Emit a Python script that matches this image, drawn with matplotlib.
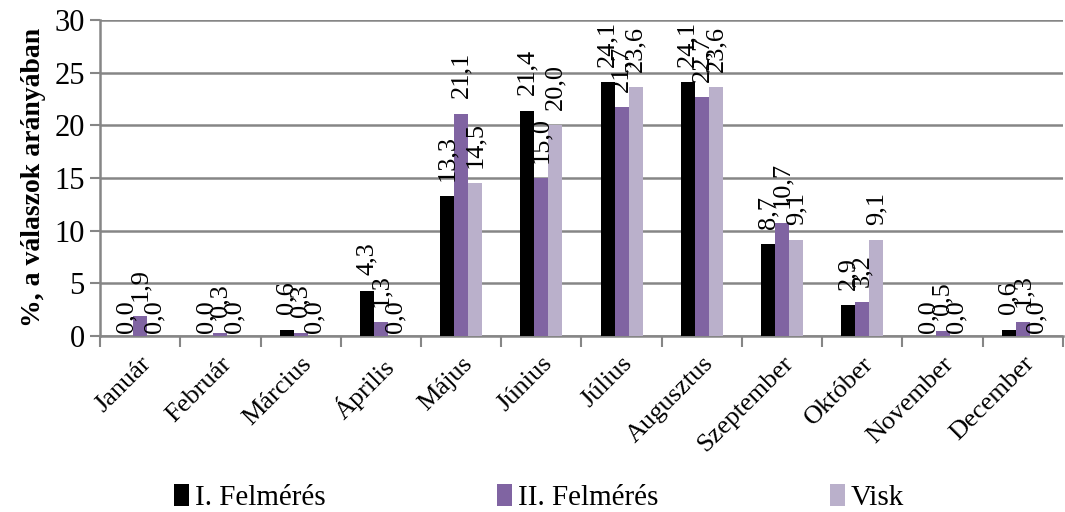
import numpy as np
import matplotlib
matplotlib.use("Agg")
import matplotlib.pyplot as plt
from matplotlib.patches import Patch

honapok = ['Január', 'Február', 'Március', 'Április', 'Május', 'Június',
           'Július', 'Augusztus', 'Szeptember', 'Október', 'November', 'December']
felmeres_1 = [0.0, 0.0, 0.6, 4.3, 13.3, 21.4, 24.1, 24.1, 8.7, 2.9, 0.0, 0.6]
felmeres_2 = [1.9, 0.3, 0.3, 1.3, 21.1, 15.0, 21.7, 22.7, 10.7, 3.2, 0.5, 1.3]
visk = [0.0, 0.0, 0.0, 0.0, 14.5, 20.0, 23.6, 23.6, 9.1, 9.1, 0.0, 0.0]
sorozat_nevek = ['I. Felmérés', 'II. Felmérés', 'Visk']
szinek = ['#000000', '#8064A2', '#BAB0CB']

plt.rcParams['font.family'] = ['Liberation Serif', 'DejaVu Serif']

fig = plt.figure(figsize=(10.65, 5.12), dpi=100)
ax = fig.add_axes([0.094, 0.344, 0.904, 0.617])

x = np.arange(len(honapok))
w = 0.175
for i, (vals, szin) in enumerate(zip([felmeres_1, felmeres_2, visk], szinek)):
    pos = x + (i - 1) * w
    ax.bar(pos, vals, width=w, color=szin, zorder=3)
    for p, v in zip(pos, vals):
        # nulla ertekeknel a felirat a tengelyhez tapad
        off = 2 if v == 0 else 11
        ax.annotate(f"{v:.1f}".replace('.', ','), (p, v), xytext=(0, off),
                    textcoords='offset points', rotation=90,
                    ha='center', va='bottom', fontsize=19, zorder=4)

ax.set_xlim(-0.5, len(honapok) - 0.5)
ax.set_ylim(0, 30)
ax.set_yticks(range(0, 31, 5))
ax.tick_params(axis='y', labelsize=22, length=7, color='#868686', width=1.5, pad=4)
ax.grid(axis='y', color='#868686', linewidth=1.8, zorder=0)

ax.set_xticks(x)
ax.set_xticklabels(honapok, rotation=45, ha='right', rotation_mode='anchor', fontsize=19)
ax.tick_params(axis='x', length=0, pad=12)
ax.set_xticks(np.arange(-0.5, len(honapok)), minor=True)
ax.tick_params(axis='x', which='minor', length=8, color='#868686', width=1.5)

for s in ['top', 'right']:
    ax.spines[s].set_visible(False)
for s in ['left', 'bottom']:
    ax.spines[s].set_color('#868686')
    ax.spines[s].set_linewidth(1.8)

ax.set_ylabel('%, a válaszok arányában', fontsize=20, fontweight='bold', labelpad=6)

handles = [Patch(facecolor=c) for c in szinek]
fig.legend(handles, sorozat_nevek, loc='lower left', bbox_to_anchor=(0.139, -0.05),
           ncol=3, frameon=False, fontsize=21, handlelength=0.5, handleheight=0.75,
           handletextpad=0.2, columnspacing=5.9)

fig.savefig('out.png', dpi=100)
